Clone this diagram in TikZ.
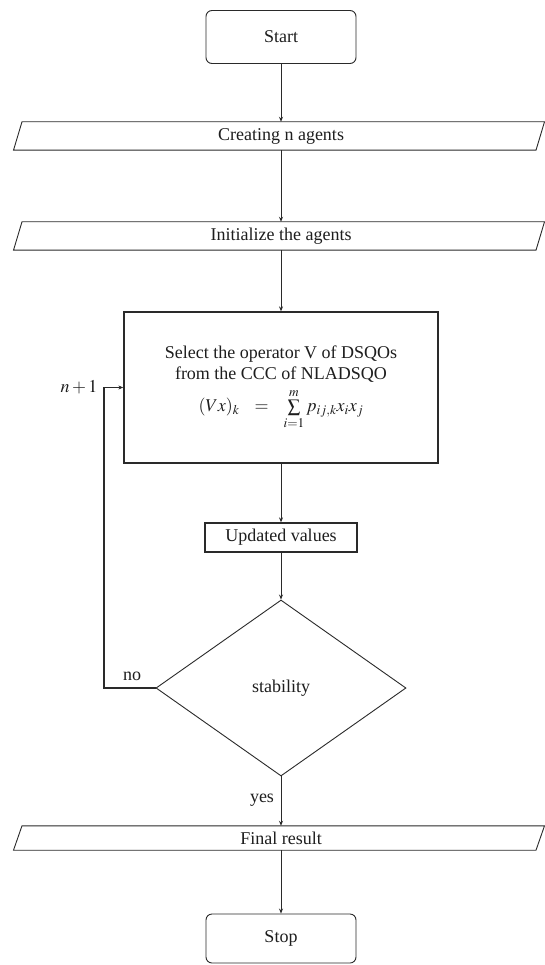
\documentclass[tikz,border=0pt]{standalone}
\usepackage{mathptmx}
\usepackage{fontspec}
\setmainfont{Liberation Serif}
\usetikzlibrary{shapes.geometric,arrows.meta,calc}
\definecolor{ln}{HTML}{2A2A2A}
\definecolor{tx}{HTML}{1E1E1E}
\begin{document}
\begin{tikzpicture}[x=1pt,y=-1pt,
  every node/.style={font=\fontsize{18}{21}\selectfont, text=tx},
  term/.style={draw=ln, line width=0.9pt, rounded corners=6pt, minimum width=150pt, inner sep=0pt},
  iotext/.style={inner sep=0pt, minimum height=28pt},
  iobox/.style={draw=ln, line width=0.9pt},
  procbox/.style={draw=ln, line width=1.3pt, inner sep=0pt, align=center},
  decision/.style={draw=ln, line width=0.9pt, diamond, minimum width=250pt, minimum height=176pt, inner sep=0pt},
  conn/.style={draw=ln, line width=0.9pt, -{Stealth[length=5pt,width=4pt]}},
  lbl/.style={inner sep=0pt}
]
\useasboundingbox (0,0) rectangle (545,965);
\fill[white] (0,0) rectangle (545,965);

% nodes
\node[term, minimum height=53pt] (start) at (281,37) {Start};
\node[iotext] (create) at (281,136) {Creating n agents};
\node[iotext] (init) at (281,236) {Initialize the agents};
\node[procbox, minimum width=314pt, minimum height=151pt] (select) at (281,387.5)
  {Select the operator V of DSQOs\\ from the CCC of NLADSQO\\[5pt]
   $(Vx)_k\hspace{11pt}=\hspace{11pt}\sum\limits_{i=1}^{m} p_{ij,k}x_ix_j$};
\node[procbox, minimum width=152pt, minimum height=29pt] (upd) at (281,537.5) {Updated values};
\node[decision] (stab) at (281,688) {stability};
\node[iotext, minimum height=24pt] (final) at (281,838) {Final result};
\node[term, minimum height=49pt] (stop) at (281,938.5) {Stop};

% parallelogram outlines
\foreach \n in {create,init,final}{
  \draw[iobox] ($(\n.south)+(-267.5,0)$) -- ($(\n.north)+(-259,0)$) -- ($(\n.north)+(263.5,0)$) -- ($(\n.south)+(255,0)$) -- cycle;
}

% labels
\node[lbl] (np1) at (79,387) {$n+1$};
\node[lbl] (no) at (132,676) {no};
\node[lbl] (yes) at (262,800) {yes};
\coordinate (loop) at (104,688);

% connectors
\draw[conn] (start.south) -- (create.north);
\draw[conn] (create.south) -- (init.north);
\draw[conn] (init.south) -- (select.north);
\draw[conn] (select.south) -- (upd.north);
\draw[conn] (upd.south) -- (stab.north);
\draw[conn] (stab.south) -- (final.north);
\draw[conn] (final.south) -- (stop.north);
\draw[conn, line width=1.1pt] (stab.west) -- (loop) |- (select.west);
\end{tikzpicture}
\end{document}
